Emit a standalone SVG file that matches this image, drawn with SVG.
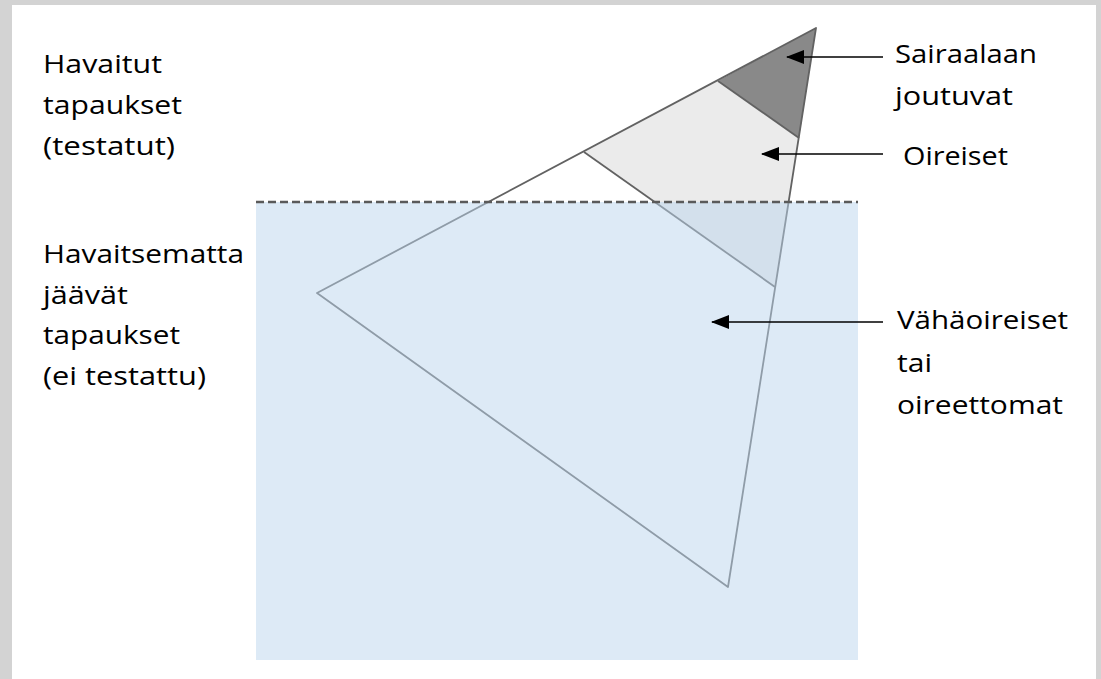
<svg xmlns="http://www.w3.org/2000/svg" width="1101" height="679" viewBox="0 0 1101 679">
  <style>
    .lbl { font-family: "Open Sans", Lato, "Liberation Sans", sans-serif; font-size: 26px; fill: #000; }
    .edge { fill: none; stroke: #626262; stroke-width: 1.8; stroke-linejoin: round; }
    .arrow { fill: none; stroke: #000; stroke-width: 1.7; marker-end: url(#ah); }
  </style>
  <defs>
    <marker id="ah" viewBox="0 0 18 14" refX="17" refY="7" markerWidth="18" markerHeight="14" markerUnits="userSpaceOnUse" orient="auto">
      <path d="M0,0 L18,7 L0,14 Z" fill="#000"/>
    </marker>
  </defs>
  <!-- frame -->
  <rect x="0" y="0" width="1101" height="679" fill="#d3d3d3"/>
  <rect x="12" y="5" width="1084" height="674" fill="#ffffff"/>

  <g id="iceberg">
    <polygon points="816,28 718,81 799,138" fill="#898989"/>
    <polygon points="718,81 584,152 775,287 799,138" fill="#ebebeb"/>
    <polygon class="edge" points="816,28 317,293 728,587"/>
    <line class="edge" x1="718" y1="81" x2="799" y2="138"/>
    <line class="edge" x1="584" y1="152" x2="775" y2="287"/>
  </g>

  <g id="water">
    <rect x="256" y="202" width="602" height="458" fill="#bcd6ee" fill-opacity="0.5"/>
    <line x1="256" y1="202" x2="858" y2="202" stroke="#5a5a5a" stroke-width="2.4" stroke-dasharray="8,4"/>
  </g>

  <g id="connectors">
    <line class="arrow" x1="883" y1="57" x2="787" y2="57"/>
    <line class="arrow" x1="883" y1="154" x2="762" y2="154"/>
    <line class="arrow" x1="883" y1="322" x2="712" y2="322"/>
  </g>

  <g id="label-detected">
    <text class="lbl" x="43" y="73" textLength="119" lengthAdjust="spacingAndGlyphs">Havaitut</text>
    <text class="lbl" x="43" y="114" textLength="139" lengthAdjust="spacingAndGlyphs">tapaukset</text>
    <text class="lbl" x="43" y="155" textLength="132" lengthAdjust="spacingAndGlyphs">(testatut)</text>
  </g>
  <g id="label-undetected">
    <text class="lbl" x="43" y="263" textLength="201" lengthAdjust="spacingAndGlyphs">Havaitsematta</text>
    <text class="lbl" x="43" y="304" textLength="85" lengthAdjust="spacingAndGlyphs">jäävät</text>
    <text class="lbl" x="43" y="344" textLength="137" lengthAdjust="spacingAndGlyphs">tapaukset</text>
    <text class="lbl" x="43" y="385" textLength="163" lengthAdjust="spacingAndGlyphs">(ei testattu)</text>
  </g>
  <g id="label-hospital">
    <text class="lbl" x="895" y="63" textLength="142" lengthAdjust="spacingAndGlyphs">Sairaalaan</text>
    <text class="lbl" x="895" y="105" textLength="118" lengthAdjust="spacingAndGlyphs">joutuvat</text>
  </g>
  <g id="label-symptomatic">
    <text class="lbl" x="903" y="165" textLength="105" lengthAdjust="spacingAndGlyphs">Oireiset</text>
  </g>
  <g id="label-mild">
    <text class="lbl" x="897" y="329" textLength="171" lengthAdjust="spacingAndGlyphs">Vähäoireiset</text>
    <text class="lbl" x="897" y="372" textLength="35" lengthAdjust="spacingAndGlyphs">tai</text>
    <text class="lbl" x="897" y="414" textLength="166" lengthAdjust="spacingAndGlyphs">oireettomat</text>
  </g>
</svg>
